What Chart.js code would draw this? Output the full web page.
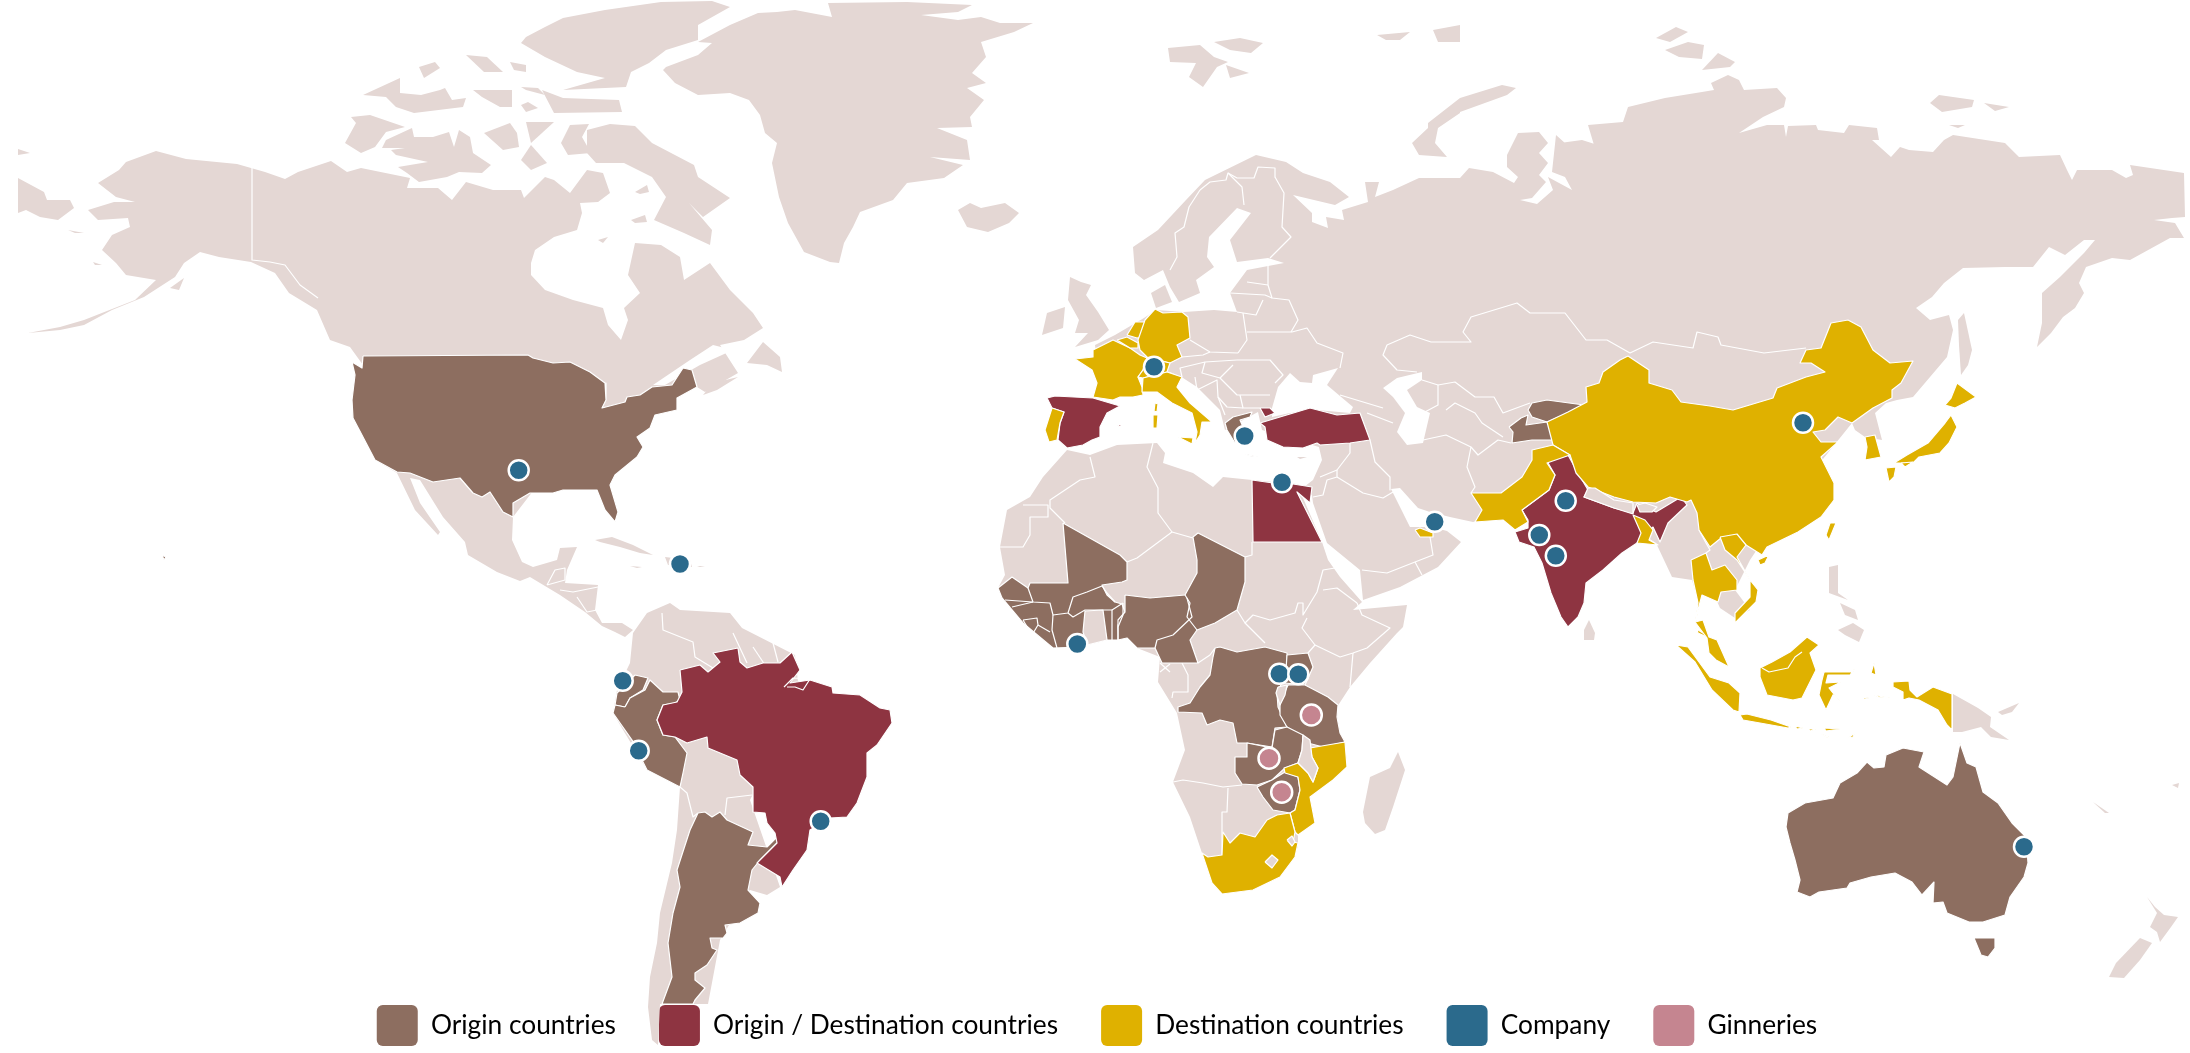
<!DOCTYPE html>
<html><head><meta charset="utf-8">
<style>html,body{margin:0;padding:0;background:#fff}canvas{display:block}</style>
<script src="https://cdn.jsdelivr.net/npm/chart.js@4"></script>
</head><body><canvas id="c" width="2190" height="1053"></canvas>
<script>
// ---- legend ----
const legendNames=['Origin countries','Origin / Destination countries','Destination countries','Company','Ginneries'];
const legendColors=['#8D6E60','#8E3441','#DFB100','#2B6A8C','#C58590'];
// ---- sites ----
const companySites=[[518.7,470.3],[680,564],[622.7,680.7],[638.7,750.7],[820.7,821.3],[1154,366.7],[1244.7,436],[1282,482.3],[1434.7,521.7],[1803,422.7],[1565.7,500.7],[1539.3,535],[1555.8,555.7],[1077.3,644],[1279.3,673.7],[1298.3,674.3],[2024,846.7]];
const ginnerySites=[[1311.3,715],[1269,758.3],[1281.7,792.3]];
// ---- pale land outlines ----
const northAmerica=[98,183,119,170,126,162,156,151,186,159,237,164,265,172,285,179,298,172,331,161,347,172,361,168,410,178,407,188,438,188,452,200,466,182,493,190,521,190,524,198,545,177,554,180,570,193,587,170,603,173,610,193,598,202,580,203,582,213,577,230,554,237,535,250,531,263,531,275,545,290,573,300,603,308,608,325,621,340,628,320,624,308,640,293,628,275,635,243,661,245,680,257,684,280,710,263,730,290,753,313,763,328,744,340,720,345,738,373,705,392,697,387,660,400,580,430,513,517,512,540,522,562,533,567,557,560,560,548,577,547,567,570,565,583,598,585,595,610,602,623,622,623,633,630,625,637,615,632,602,626,585,612,560,595,530,577,520,581,497,572,468,555,465,542,443,517,420,480,410,478,420,503,440,532,438,535,415,510,397,473,375,460,355,390,363,365,350,347,330,340,317,310,289,293,275,273,251,262,219,257,200,252,184,263,175,277,144,297,112,310,84,325,60,330,28,333,60,327,84,320,135,300,156,280,126,275,116,263,102,250,112,235,130,227,128,218,98,220,88,210,114,202,135,202,116,197];
const greenland=[666,67,698,55,712,43,698,42,730,25,758,13,777,12,795,10,832,17,828,3,907,2,972,5,958,12,921,15,958,20,981,17,1000,23,1033,23,1014,32,981,42,986,57,972,73,986,83,967,88,984,100,970,117,972,127,937,128,967,140,970,160,930,157,963,165,944,178,907,183,893,200,860,212,853,227,844,243,839,263,830,262,804,252,788,223,779,197,772,163,777,143,765,133,760,115,749,100,730,93,698,95,675,83,663,70];
const eurasia=[1135,273,1133,247,1158,230,1186,200,1205,180,1256,155,1286,162,1303,173,1330,182,1349,197,1335,205,1293,195,1312,213,1312,222,1328,228,1326,217,1344,220,1342,210,1368,202,1365,182,1379,182,1375,197,1393,190,1419,178,1460,178,1469,168,1493,172,1514,183,1518,177,1507,167,1507,155,1518,133,1539,132,1548,143,1539,153,1548,163,1539,175,1546,182,1532,198,1520,200,1537,204,1553,190,1548,177,1572,190,1565,177,1552,172,1556,135,1575,152,1560,143,1582,140,1604,147,1607,160,1600,165,1588,125,1623,122,1628,107,1665,98,1702,92,1714,90,1711,83,1728,75,1739,80,1744,90,1777,88,1786,98,1784,107,1763,117,1739,133,1767,125,1784,125,1786,137,1788,126,1816,125,1818,130,1844,133,1849,125,1877,128,1879,140,1872,140,1891,157,1900,147,1909,150,1933,152,1944,140,1953,135,2005,143,2019,157,2060,155,2067,170,2072,180,2077,170,2112,170,2126,178,2133,175,2130,165,2184,173,2185,217,2172,218,2154,220,2175,223,2184,238,2170,238,2130,260,2112,258,2086,267,2079,283,2084,293,2075,308,2063,317,2051,333,2037,347,2042,323,2042,293,2060,277,2084,253,2095,240,2084,240,2065,255,2049,247,2033,267,2005,267,1963,268,1944,283,1932,297,1916,308,1930,320,1949,315,1953,330,1947,357,1913,397,1897,400,1886,403,1875,413,1882,440,1865,437,1855,430,1852,423,1790,500,1750,560,1735,590,1750,610,1735,618,1720,608,1712,590,1700,590,1698,600,1692,580,1672,577,1656,543,1620,520,1530,510,1473,522,1450,517,1430,512,1418,508,1400,488,1391,489,1403,513,1410,527,1432,527,1447,531,1461,542,1438,567,1400,587,1363,600,1360,570,1327,543,1313,503,1312,495,1300,490,1313,480,1322,460,1319,447,1262,430,1258,412,1243,420,1225,430,1220,410,1197,387,1183,378,1170,372,1160,370,1100,380,1095,345,1115,335,1144,318,1156,310,1184,312,1214,310,1237,312,1230,293,1247,270,1284,263,1268,258,1237,262,1230,240,1251,213,1237,208,1209,237,1207,257,1214,267,1196,280,1200,293,1179,302,1170,287,1163,270,1144,280];
const africa=[1067,450,1090,455,1117,445,1157,443,1165,453,1163,463,1193,473,1213,487,1223,477,1252,480,1297,484,1322,542,1328,560,1340,577,1362,602,1353,610,1407,605,1403,627,1397,633,1370,663,1350,687,1337,707,1337,717,1340,733,1345,742,1347,767,1333,780,1310,797,1315,823,1298,835,1298,847,1280,877,1253,890,1222,894,1212,883,1202,853,1190,817,1173,782,1185,750,1177,713,1158,682,1160,657,1137,648,1127,638,1107,640,1080,647,1053,648,1023,623,1002,598,998,588,1005,575,1000,547,1007,510,1030,497,1043,477];
const southAmerica=[633,633,647,613,670,603,680,610,730,613,742,628,795,655,800,700,750,800,780,887,767,895,750,890,720,940,708,1004,660,1004,658,1045,652,1040,648,1007,650,977,657,943,660,913,672,863,677,830,680,787,647,770,613,713,617,690,630,663];
const paleIslands=[
 [958,210,970,203,981,208,1005,203,1019,213,1009,223,988,232,967,227],
 [1168,48,1200,45,1214,57,1228,62,1217,67,1203,87,1189,77,1196,63,1170,62],[1214,42,1240,38,1263,43,1251,53,1230,50],[1226,65,1249,73,1230,78],
 [1460,98,1502,85,1516,88,1507,95,1460,112],[1428,123,1460,98,1460,113,1438,128,1435,143,1447,157,1419,155,1412,143,1428,128],
 [1377,35,1410,32,1400,40,1386,40],[1433,30,1460,25,1460,42,1438,42],
 [1656,38,1676,27,1688,32,1670,42],[1665,50,1688,42,1704,45,1702,59,1679,57],[1702,70,1718,53,1735,62,1730,67],
 [1930,103,1939,95,1960,98,1974,100,1972,107,1942,112],[1984,103,2009,107,1995,111],[1949,125,1965,125,1958,128],
 [1958,320,1964,313,1972,350,1968,365,1961,375,1959,345],
 [1070,277,1081,282,1091,285,1086,295,1098,312,1109,330,1098,340,1075,347,1088,333,1075,333,1079,320,1068,300],
 [1047,313,1065,307,1063,328,1042,335],[1151,293,1165,285,1172,302,1156,308],
 [1398,752,1405,770,1393,807,1385,830,1375,834,1365,823,1363,812,1370,777,1390,768],
 [386,140,412,128,414,137,433,137,449,132,454,147,459,130,470,137,473,153,491,165,482,173,459,172,447,177,419,182,407,173,398,167,428,162,396,155,391,150,405,148,382,148],
 [351,117,370,115,405,127,386,132,375,147,361,153,345,143,356,123],
 [484,133,510,123,517,133,519,147,503,150],[526,122,554,122,542,133,531,143],[521,160,531,145,547,163,531,170],[561,143,570,125,589,124,582,137,591,153,568,155],
 [587,130,610,124,635,126,652,143,694,165,698,177,730,198,703,217,689,203,712,230,710,245,684,233,654,220,666,197,652,177,624,163,596,163,587,153],
 [631,220,645,215,647,222,635,223],[598,240,608,237,603,243],[635,192,647,185,649,192,640,194],
 [473,90,512,90,512,107,500,107,482,97],[363,95,400,78,400,93,421,95,440,90,445,88,452,100,466,98,463,107,414,113,396,107,386,97],
 [521,87,538,88,545,95,526,90],[521,105,528,102,538,108,526,112],[542,90,563,98,619,100,622,112,554,113],
 [466,55,487,57,503,72,484,72],[510,62,526,65,526,72,514,70],[419,67,435,62,440,68,424,78],
 [526,37,545,27,563,18,605,10,661,2,712,1,730,7,698,25,698,40,666,50,649,63,631,72,626,87,563,90,605,78,577,72,545,57,521,43],
 [747,363,763,342,780,357,782,372,767,365],[703,395,713,383,738,377,717,390],
 [595,540,612,537,633,545,653,555,640,553,620,547,600,542],[665,557,690,560,692,567,668,565],[630,566,642,567,637,568],[697,566,705,566,700,567],
 [18,178,44,192,47,200,70,200,74,208,58,220,40,217,26,210,18,213],[18,149,30,153,18,155],[68,230,84,233,75,233],[170,288,184,278,179,290],[93,262,102,265,95,265],
 [1953,694,1978,708,1991,717,1990,727,2009,740,1991,737,1981,727,1962,732,1953,732],[1998,712,2019,703,2012,712,2002,715],
 [1829,567,1838,565,1838,593,1848,600,1829,593],[1840,603,1855,610,1858,620,1845,615],[1838,630,1853,623,1864,630,1859,642,1845,635],
 [1584,630,1589,620,1595,633,1594,640,1584,640],
 [2147,897,2155,907,2164,915,2178,917,2171,927,2160,942,2157,932,2150,927,2157,913],[2140,938,2152,943,2140,960,2124,978,2109,977,2116,963],
 [2093,802,2109,813,2105,813],[2172,785,2179,783,2178,788],[1297,457,1307,457,1300,459]
];
// ---- inland water and gulfs ----
const waterShapes=[
 [1272,408,1278,387,1290,373,1300,382,1312,383,1313,375,1338,368,1327,385,1353,407,1350,413,1317,410,1290,413,1272,417],
 [1383,388,1397,378,1422,372,1422,380,1407,390,1417,407,1430,413,1423,443,1407,445,1397,432,1405,413,1393,397],
 [653,385,690,360,713,345,733,350,700,365,665,385],
 [1002,596,1018,594,1020,598,1003,600]
];
// ---- white country borders on pale land ----
const paleBorders=[
 [252,168,252,260,270,262,285,265,300,285,318,298],
 [547,585,555,570,565,568,565,580,547,585],[560,590,573,592,598,587],[577,597,587,612,597,610],
 [662,613,663,630,693,642,695,657,713,668],[733,633,747,663],[753,647,765,665],[773,643,778,662],
 [680,787,687,793,693,817,698,813],[725,815,727,798,752,795],
 [1090,457,1095,477,1080,480,1050,500,1050,508,1065,523],[1023,505,1048,505,1048,517,1030,517,1030,535,1023,547,1000,547],
 [1153,443,1147,467,1158,488,1158,513,1172,532,1137,558,1127,562],[1172,532,1193,538],[1245,557,1252,555,1252,542],
 [1237,610,1245,623,1253,615,1270,620,1295,613,1298,603,1303,603,1303,615,1317,592,1323,570,1335,568],
 [1245,623,1265,643],[1307,618,1302,628,1315,645,1308,653],[1315,645,1340,657,1353,653,1367,648,1390,628,1362,615,1357,603],[1323,590,1337,588,1357,603],[1353,653,1350,687],
 [1198,663,1210,655,1215,648],[1160,672,1170,664],[1170,672,1160,663],[1182,663,1188,675,1188,692,1173,692,1172,698],
 [1173,782,1183,780,1203,783,1223,787,1242,785],[1228,788,1227,812,1222,812,1222,855],
 [1275,177,1284,193,1282,227,1291,237,1270,258],[1200,190,1189,207,1184,227,1175,233,1177,257,1170,270],[1244,205,1242,187,1228,173],
 [1200,190,1210,182,1226,180,1228,173,1237,178,1254,178,1258,167,1275,168,1275,177],
 [1230,293,1265,295,1272,298],[1247,282,1268,285],[1268,263,1268,285,1272,298,1289,300,1298,320,1291,332],[1237,312,1256,315,1263,300],
 [1243,313,1247,340,1238,353],[1190,340,1210,352,1238,353],[1182,357,1203,355,1210,352],[1182,377,1180,368,1205,362,1237,360],[1205,362,1202,373,1220,378,1233,365],
 [1247,332,1292,332,1307,328,1317,343,1343,353,1340,368],[1237,360,1270,360,1283,375,1275,383],[1220,378,1237,395,1270,395],[1240,395,1243,408,1260,408],
 [1195,377,1197,390,1217,380,1218,397,1227,407,1243,408],[1218,397,1225,415],
 [1340,395,1383,408],[1367,413,1393,423],[1370,440,1375,462,1390,477,1390,490],[1337,477,1363,493,1383,498,1393,492],[1350,443,1350,453,1337,470,1320,477],[1337,470,1337,477,1327,480,1323,495,1313,497],
 [1362,570,1387,573,1415,562,1433,555,1430,537],[1415,562,1422,575],
 [1417,372,1397,370,1383,355,1387,345,1410,335,1431,342,1457,342,1471,342,1463,332,1471,317,1517,303,1530,313,1565,313,1586,340,1607,340,1630,353,1653,342,1693,348,1697,332,1718,337,1721,345,1764,353,1806,348],
 [1422,380,1438,385,1455,382,1475,397,1494,397,1503,413,1530,403],[1438,385,1438,405,1423,413],[1446,410,1455,403,1475,413,1482,423,1503,437],[1423,440,1446,435,1471,447,1478,455,1498,440,1511,443],[1471,447,1467,467,1475,487,1471,493],
 [1699,530,1706,543,1710,550,1706,553]
];
// ---- origin countries ----
const originShapes=[
 [363,356,528,355,533,358,553,363,570,362,590,372,605,383,606,400,602,408,625,402,627,397,640,395,652,387,672,385,683,368,692,370,697,387,677,398,677,410,655,415,650,428,637,437,643,447,637,457,615,475,610,485,618,512,615,522,605,510,597,490,563,490,553,493,530,493,513,503,513,517,503,512,490,492,482,497,473,493,460,478,433,482,410,473,397,472,375,460,363,437,353,418,352,400,355,375,352,362,362,368],
 [162,555,166,557,164,560],
 [635,675,648,678,643,690,630,698,625,707,615,705,617,693,620,690],
 [625,707,630,698,645,690,650,680,663,692,678,692,680,700,675,703,663,705,657,720,663,735,675,737,687,753,683,773,680,787,647,770,632,740,613,713,615,705],
 [698,813,705,812,712,817,720,812,727,820,753,832,748,845,767,847,777,837,778,842,760,860,752,870,748,890,760,903,758,913,740,923,725,925,727,933,723,938,710,938,712,948,717,950,707,965,695,973,695,980,705,988,695,1000,693,1004,662,1004,672,977,668,943,673,913,680,887,677,870,690,830],
 [1063,523,1120,555,1127,562,1127,580,1122,582,1102,585,1107,595,1115,602,1122,604,1125,612,1118,625,1119,640,1107,640,1080,647,1053,648,1023,623,1002,598,998,588,1012,577,1028,588,1030,583,1068,583],
 [1125,595,1150,598,1185,595,1197,573,1197,560,1193,537,1198,533,1245,557,1245,582,1237,610,1215,623,1197,630,1190,640,1198,663,1162,663,1155,648,1137,648,1127,638,1118,640,1118,620,1125,612],
 [1215,648,1220,647,1237,652,1265,647,1287,653,1287,672,1277,693,1278,707,1287,727,1275,728,1272,747,1247,743,1237,743,1233,723,1220,720,1207,725,1202,713,1178,712,1178,707,1190,703,1200,687,1210,675,1213,657],
 [1287,655,1308,653,1313,667,1305,685,1285,683],
 [1288,685,1305,685,1328,697,1338,705,1337,717,1340,733,1345,742,1323,747,1308,743,1303,737,1287,727,1280,715,1280,703],
 [1275,730,1287,727,1303,735,1302,750,1298,763,1285,768,1272,780,1257,785,1242,784,1235,773,1235,757,1247,757,1247,743,1272,748],
 [1257,787,1272,780,1285,772,1298,777,1300,790,1295,810,1290,813,1273,810,1263,797],
 [1225,423,1233,417,1252,412,1250,417,1240,420,1243,427,1235,443,1227,430],[1245,454,1258,457,1250,456],
 [1528,410,1532,403,1547,400,1584,405,1568,413,1547,422,1532,417],
 [1509,427,1521,418,1528,415,1526,425,1547,422,1553,432,1553,440,1532,440,1512,443,1513,432],
 [1788,813,1805,803,1833,798,1840,783,1857,773,1867,762,1874,768,1884,767,1886,755,1903,748,1924,752,1919,767,1947,785,1953,777,1960,743,1967,763,1976,767,1983,792,1998,803,2012,823,2026,837,2028,863,2024,877,2010,897,2005,915,1983,922,1969,922,1947,913,1943,902,1933,903,1934,882,1922,895,1912,882,1895,873,1871,877,1850,883,1847,888,1819,892,1810,897,1797,892,1800,880,1795,860,1790,843,1786,827],
 [1974,938,1995,938,1995,948,1988,957,1981,955]
];
// ---- borders inside the origin groups ----
const originBorders=[
 [1028,588,1033,602,1050,603,1053,615,1068,613,1073,597,1087,592,1102,586,1107,593,1115,602],
 [1068,613,1073,617,1085,610,1103,610,1112,610,1123,603],[1053,615,1052,630,1057,648],[1005,600,1033,602],[1012,607,1033,602],
 [1023,620,1037,618,1038,625,1032,635,1023,620],[1038,625,1050,632],[1112,610,1112,640],[1118,640,1118,627,1123,615,1123,603],
 [1187,598,1192,617,1173,635,1157,640,1155,648],[1185,595,1190,603,1187,617,1197,630]
];
// ---- origin / destination countries ----
const bothShapes=[
 [680,670,700,665,708,672,720,662,713,653,738,648,740,662,747,668,763,663,780,663,792,652,800,670,790,683,810,680,832,687,833,693,860,695,880,708,890,710,892,723,877,745,867,753,867,777,857,803,847,817,830,818,810,830,807,850,793,870,782,887,780,877,757,863,777,843,775,833,767,823,765,813,753,812,753,787,740,775,737,760,708,748,707,737,687,743,675,737,663,735,657,720,663,705,677,702,682,692],
 [1047,398,1055,396,1093,398,1120,406,1107,413,1100,427,1100,437,1092,440,1083,445,1067,448,1058,440,1060,423,1064,412,1052,408],[1117,425,1122,425,1120,427],
 [1252,480,1273,483,1293,484,1312,487,1310,503,1297,492,1322,542,1253,542],
 [1260,408,1270,408,1275,413,1265,417],[1260,423,1280,417,1310,408,1337,415,1360,413,1370,440,1350,443,1320,445,1317,443,1303,448,1283,447,1267,440,1265,427],
 [1547,461,1568,455,1578,473,1588,490,1584,497,1614,508,1633,513,1637,503,1656,512,1681,497,1687,505,1668,523,1660,542,1653,527,1637,543,1622,553,1603,570,1586,583,1584,603,1578,617,1568,627,1561,617,1551,593,1542,563,1534,547,1519,542,1515,532,1528,528,1528,520,1522,510,1549,490,1555,475]
];
// ---- destination countries ----
const destinationShapes=[
 [1075,359,1093,357,1093,350,1113,340,1130,348,1140,355,1147,358,1143,370,1138,377,1142,387,1143,395,1133,397,1120,397,1113,400,1093,397,1097,383,1092,370],
 [1117,340,1127,337,1138,343,1138,348,1130,348],[1127,335,1135,322,1145,322,1142,337,1137,338],
 [1155,309,1163,313,1182,312,1188,317,1190,338,1177,345,1182,357,1170,363,1147,357,1140,350,1138,340,1145,320],
 [1147,358,1170,363,1167,372,1143,378,1138,377,1143,370],
 [1143,378,1167,372,1182,377,1177,387,1190,403,1212,422,1202,422,1200,435,1195,443,1197,432,1192,413,1172,403,1157,392,1142,392],
 [1178,437,1193,438,1192,444],[1153,415,1158,415,1157,428,1153,428],[1155,403,1158,404,1157,412,1154,411],
 [1052,408,1064,412,1060,423,1057,440,1049,442,1045,430],
 [1415,530,1420,528,1433,533,1433,537,1420,537],
 [1628,356,1649,370,1649,383,1672,390,1681,402,1710,406,1733,410,1773,398,1777,388,1806,377,1825,372,1811,363,1800,363,1806,350,1821,348,1831,323,1848,320,1861,327,1873,350,1890,363,1913,361,1901,383,1892,390,1892,398,1873,408,1852,423,1838,417,1825,430,1813,432,1821,442,1838,442,1821,457,1834,483,1834,500,1821,517,1798,532,1767,547,1762,555,1746,545,1735,535,1721,538,1710,547,1699,530,1697,513,1691,500,1687,502,1670,497,1656,503,1633,502,1614,497,1588,487,1576,473,1570,455,1553,445,1547,422,1568,412,1587,402,1586,387,1599,383,1603,372,1620,360],
 [1553,445,1532,450,1532,460,1522,477,1501,493,1471,493,1482,510,1475,522,1503,520,1515,530,1528,522,1522,510,1549,490,1555,475,1547,463,1570,455],
 [1633,515,1645,520,1653,530,1649,540,1658,545,1637,543,1641,533],
 [1865,437,1875,435,1881,457,1865,460,1867,447],
 [1957,383,1976,397,1965,403,1955,408,1945,405,1951,398],[1951,415,1957,427,1949,443,1940,453,1919,457,1913,463,1894,463,1907,455,1928,443,1945,423],[1886,468,1896,467,1894,477,1889,482],[1901,463,1913,462,1905,467],
 [1830,523,1836,523,1829,540,1826,535],[1758,560,1769,555,1765,563,1760,565],
 [1720,537,1737,534,1746,545,1737,557,1750,580,1758,590,1756,602,1735,623,1735,613,1750,597,1750,580,1737,560,1725,550],
 [1691,560,1706,553,1712,570,1725,565,1737,580,1737,590,1721,592,1718,602,1702,595,1698,610,1695,628,1714,640,1698,633,1695,623,1698,603,1693,580],
 [1695,622,1703,620,1709,637,1717,640,1729,667,1716,660,1709,653,1707,638],
 [1676,645,1688,647,1710,677,1729,683,1740,693,1739,712,1733,710,1712,690,1695,662],
 [1740,715,1747,714,1771,720,1791,727,1788,728,1760,723,1743,720],
 [1795,726,1803,728,1797,729],[1808,729,1816,729,1810,731],[1824,728,1840,729,1826,731],[1821,734,1829,737,1828,738],[1848,738,1855,733,1853,737],
 [1760,668,1772,662,1790,652,1807,637,1819,645,1810,653,1816,670,1802,698,1793,700,1767,695,1760,677],
 [1824,672,1853,672,1855,668,1850,675,1828,675,1826,683,1841,682,1829,688,1841,703,1833,695,1826,710,1819,695,1822,680],
 [1874,663,1876,675,1871,673],[1862,697,1869,698,1864,699],[1874,695,1890,698,1878,697],
 [1893,682,1909,681,1910,690,1917,697,1933,687,1952,694,1952,730,1947,725,1938,710,1919,700,1909,698,1903,700,1903,692,1893,687],
 [1310,748,1345,742,1347,767,1333,780,1310,797,1315,823,1298,835,1295,832,1290,813,1295,810,1300,790,1298,777,1285,773,1284,768,1298,763,1308,773,1313,782,1318,768,1312,757],
 [1277,815,1290,813,1295,832,1293,842,1298,843,1295,857,1280,877,1253,890,1222,894,1212,883,1202,853,1208,857,1222,855,1223,832,1230,843,1240,833,1255,837,1267,820]
];
const destinationBorders=[[1762,668,1769,672,1788,668,1795,657,1802,652],[784,687,793,678,810,679,803,690,795,687,787,687]];
// ---- pale countries surrounded by coloured ones ----
const paleOverlays=[
 [1085,611,1103,610,1107,640,1087,645,1083,632],
 [1278,687,1287,685,1285,695,1280,705,1276,693],
 [1303,735,1310,740,1312,757,1318,768,1313,782,1308,773,1298,763,1302,750],
 [1265,862,1272,855,1278,860,1272,868],[1287,840,1292,836,1295,842,1292,846],
 [1588,488,1595,488,1614,500,1633,503,1633,514,1614,508,1584,497],
 [1637,505,1645,503,1657,507,1652,512,1640,512]
];
const PALE='#E4D7D4';
const rows=[];
const pts=f=>{const r=[];for(let i=0;i<f.length;i+=2)r.push({x:f[i],y:f[i+1]});return r;};
const closed=f=>f.concat([f[0],f[1]]);
const addFill=(f,c,bw)=>rows.push({type:'scatter',showLine:true,data:pts(closed(f)),fill:'shape',backgroundColor:c,borderColor:'#fff',borderWidth:bw,pointRadius:0,tension:0,borderJoinStyle:'round',clip:false});
const addLine=(f,w)=>rows.push({type:'scatter',showLine:true,data:pts(f),fill:false,borderColor:'#fff',borderWidth:w,pointRadius:0,tension:0,borderJoinStyle:'round',clip:false});
[northAmerica,greenland,eurasia,africa,southAmerica].forEach(f=>addFill(f,PALE,0));
paleIslands.forEach(f=>addFill(f,PALE,0));
waterShapes.forEach(f=>addFill(f,'#fff',0));
paleBorders.forEach(f=>addLine(f,1.2));
originShapes.forEach(f=>addFill(f,legendColors[0],1.2));
originBorders.forEach(f=>addLine(f,1.2));
bothShapes.forEach(f=>addFill(f,legendColors[1],1.2));
destinationShapes.forEach(f=>addFill(f,legendColors[2],1.2));
destinationBorders.forEach(f=>addLine(f,1.2));
paleOverlays.forEach(f=>addFill(f,PALE,1.2));
const site=(s,c,r)=>rows.push({type:'scatter',data:s.map(p=>({x:p[0],y:p[1]})),backgroundColor:c,borderColor:'#fff',pointRadius:r,pointBorderWidth:2.5,pointBackgroundColor:c,pointBorderColor:'#fff',clip:false});
site(companySites,legendColors[3],10);
site(ginnerySites,legendColors[4],10.5);
rows.forEach((d,i)=>{d.order=rows.length-i;});

const legendFree={id:'legendFree',
 beforeInit(chart){const l=chart.legend,f=l.fit;l.fit=function(){f.call(l);l.height=0;};},
 afterLayout(chart){const l=chart.legend;l.top=1005-43;l.bottom=1053;l.left+=2;l.right+=2;}
};
new Chart(document.getElementById('c'),{
 type:'scatter',
 data:{datasets:rows},
 plugins:[legendFree],
 options:{
  responsive:false,animation:false,events:[],
  layout:{padding:0,autoPadding:false},
  scales:{x:{type:'linear',min:0,max:2190,display:false},y:{type:'linear',min:0,max:1053,reverse:true,display:false}},
  plugins:{tooltip:{enabled:false},
   legend:{position:'bottom',align:'center',
    labels:{boxWidth:41,boxHeight:41,padding:43,useBorderRadius:true,borderRadius:6,color:'#111',font:{family:'Lato',size:26.3},
     generateLabels:()=>legendNames.map((t,i)=>({text:t,fillStyle:legendColors[i],strokeStyle:legendColors[i],lineWidth:0,hidden:false,datasetIndex:i,borderRadius:6}))}}}
 }
});
</script></body></html>
